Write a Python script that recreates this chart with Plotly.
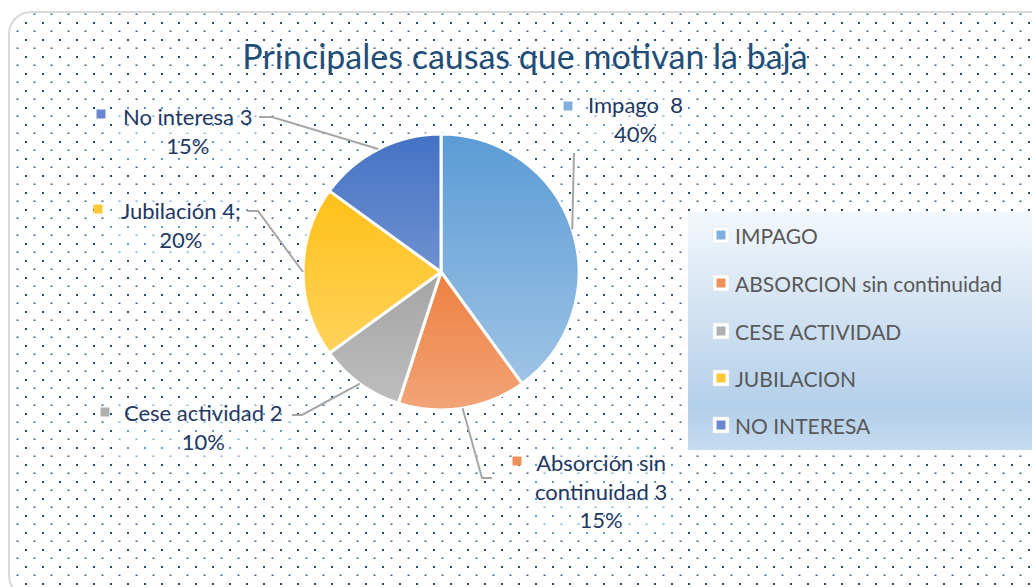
import base64
import math
import plotly.graph_objects as go

# ---------------- data ----------------
categories = ["IMPAGO", "ABSORCION sin continuidad", "CESE ACTIVIDAD", "JUBILACION", "NO INTERESA"]
label_names = ["Impago\u00a0 8", "Absorción sin<br>continuidad 3", "Cese actividad 2", "Jubilación 4;", "No interesa 3"]
values = [8, 3, 2, 4, 3]
colors = ["#5b9bd5", "#e85a08", "#8a8a8a", "#ffba00", "#4472c4"]      # base (top) tones
key_colors = ["#7fb1e0", "#f0915a", "#b0b0b0", "#fdc833", "#6a88cf"]  # label/legend keys

W, H = 1032, 587
OFF = 0                            # page body margin removed via post_script
CX, CY, R = 441, 272, 138          # pie centre / radius in screen pixels


def px(x):
    return (x - OFF) / W


def py(y):
    return (H - (y - OFF)) / H


def svg_uri(svg):
    return "data:image/svg+xml;base64," + base64.b64encode(svg.encode("utf-8")).decode("ascii")


# label blocks: (centre x, centre y) and leader-line elbow points (screen pixels)
label_pos = [(635, 119), (601, 491), (203, 427), (181, 225), (187, 131)]
label_box = [(580, 88, 110, 62), (530, 447, 145, 88), (118, 398, 172, 60),
             (110, 195, 140, 60), (115, 100, 147, 60)]
key_pos = [(568, 106), (517, 461), (105, 412), (98, 209), (101, 114)]
elbows = [
    [(574, 153)],
    [(492, 478), (482, 478)],
    [(292, 415), (302, 415)],
    [(247, 211), (258, 211)],
    [(259, 117), (272, 117)],
]

# ---------------- background svg ----------------
pat = (
    "<pattern id='p' x='8' y='5' width='17' height='17' patternUnits='userSpaceOnUse'>"
    "<rect x='0' y='0' width='2' height='2' fill='#1f4e79'/>"
    "<rect x='8.5' y='8.5' width='2' height='1.4' fill='#2a5a8a'/></pattern>"
    "<pattern id='q' x='8' y='5' width='17' height='17' patternUnits='userSpaceOnUse'>"
    "<rect x='0' y='0' width='2' height='2' fill='#5b9bd5'/>"
    "<rect x='8.5' y='8.5' width='2' height='1.4' fill='#6fa8dc'/></pattern>"
    "<linearGradient id='lg' x1='0' y1='0' x2='0' y2='1'>"
    "<stop offset='0' stop-color='#f3f7fc'/><stop offset='0.82' stop-color='#b3cfea'/>"
    "<stop offset='1' stop-color='#c6dbef'/></linearGradient>"
)
boxes = "".join(
    f"<rect x='{x}' y='{y}' width='{w}' height='{h}' fill='white'/>"
    f"<rect x='{x}' y='{y}' width='{w}' height='{h}' fill='url(#q)'/>"
    for (x, y, w, h) in label_box
)
bg_svg = (
    f"<svg xmlns='http://www.w3.org/2000/svg' width='{W}' height='{H}' viewBox='0 0 {W} {H}'>"
    f"<defs>{pat}</defs>"
    f"<rect x='0' y='0' width='{W}' height='{H}' fill='white'/>"
    f"<g transform='translate({-OFF},{-OFF})'>"
    "<rect x='9' y='12' width='1045' height='585' rx='22' fill='white' stroke='#d9d9d9' stroke-width='2'/>"
    "<rect x='10' y='13' width='1043' height='583' rx='21' fill='url(#p)'/>"
    f"{boxes}"
    "<rect x='688' y='212' width='360' height='238' fill='url(#lg)'/>"
    "</g></svg>"
)

grad_svg = (
    "<svg xmlns='http://www.w3.org/2000/svg' width='276' height='276' viewBox='0 0 276 276'>"
    "<defs><linearGradient id='g' x1='0' y1='0' x2='0' y2='1'>"
    "<stop offset='0' stop-color='white' stop-opacity='0'/>"
    "<stop offset='1' stop-color='white' stop-opacity='0.45'/></linearGradient></defs>"
    "<circle cx='138' cy='138' r='137.5' fill='url(#g)'/></svg>"
)

fig = go.Figure()
fig.add_trace(go.Pie(
    labels=categories,
    values=values,
    sort=False,
    direction="clockwise",
    rotation=0,
    marker=dict(colors=colors, line=dict(color="white", width=3)),
    textinfo="none",
    hoverinfo="label+value+percent",
    showlegend=False,
    domain=dict(x=[px(CX - R), px(CX + R)], y=[py(CY + R), py(CY - R)]),
))

images = [
    dict(source=svg_uri(bg_svg), xref="paper", yref="paper", x=0, y=1,
         sizex=1, sizey=1, xanchor="left", yanchor="top", sizing="stretch", layer="below"),
    dict(source=svg_uri(grad_svg), xref="paper", yref="paper", x=px(CX - R), y=py(CY - R),
         sizex=2 * R / W, sizey=2 * R / H, xanchor="left", yanchor="top", sizing="stretch", layer="above"),
]

shapes = []
annotations = []
total = sum(values)
pct = [round(100 * v / total) for v in values]
cum = 0
for i, v in enumerate(values):
    mid = (cum + v / 2) / total * 2 * math.pi
    cum += v
    ax_, ay_ = CX + R * math.sin(mid), CY - R * math.cos(mid)
    pts = elbows[i] + [(ax_, ay_)]
    path = "M " + " L ".join(f"{px(x):.5f},{py(y):.5f}" for x, y in pts)
    shapes.append(dict(type="path", path=path, xref="paper", yref="paper",
                       line=dict(color="#a6a6a6", width=2)))
    kx, ky = key_pos[i]
    shapes.append(dict(type="rect", xref="paper", yref="paper",
                       x0=px(kx - 4.5), x1=px(kx + 4.5), y0=py(ky + 4.5), y1=py(ky - 4.5),
                       fillcolor=key_colors[i], line=dict(width=0)))
    lx, ly = label_pos[i]
    annotations.append(dict(
        text=f"{label_names[i]}<br>{pct[i]}%", x=px(lx), y=py(ly), xref="paper", yref="paper",
        xanchor="center", yanchor="middle", align="center", showarrow=False,
        font=dict(family="Lato", size=22, color="#1f3864")))

# legend (drawn manually to reproduce Excel legend spacing)
leg_y = [235, 283, 331, 378, 425]
for i, name in enumerate(categories):
    yy = leg_y[i]
    shapes.append(dict(type="rect", xref="paper", yref="paper",
                       x0=px(713), x1=px(729), y0=py(yy + 8), y1=py(yy - 8),
                       fillcolor="white", line=dict(color="#e6e6e6", width=0.6)))
    shapes.append(dict(type="rect", xref="paper", yref="paper",
                       x0=px(716.5), x1=px(725.5), y0=py(yy + 4.5), y1=py(yy - 4.5),
                       fillcolor=key_colors[i], line=dict(width=0)))
    annotations.append(dict(
        text=name, x=px(733), y=py(yy), xref="paper", yref="paper",
        xanchor="left", yanchor="middle", showarrow=False,
        font=dict(family="Lato", size=21, color="#595959")))

fig.update_layout(
    width=W, height=H,
    margin=dict(l=0, r=0, t=0, b=0),
    paper_bgcolor="white",
    plot_bgcolor="white",
    title=dict(text="Principales causas que motivan la baja", x=px(525), y=py(57),
               xanchor="center", yanchor="middle",
               font=dict(family="Lato", size=34, color="#1f4e79")),
    images=images,
    shapes=shapes,
    annotations=annotations,
)

fig.write_html(
    "out.html",
    config={"displayModeBar": False},
    post_script="document.body.style.margin='0';document.body.style.overflow='hidden';",
)
